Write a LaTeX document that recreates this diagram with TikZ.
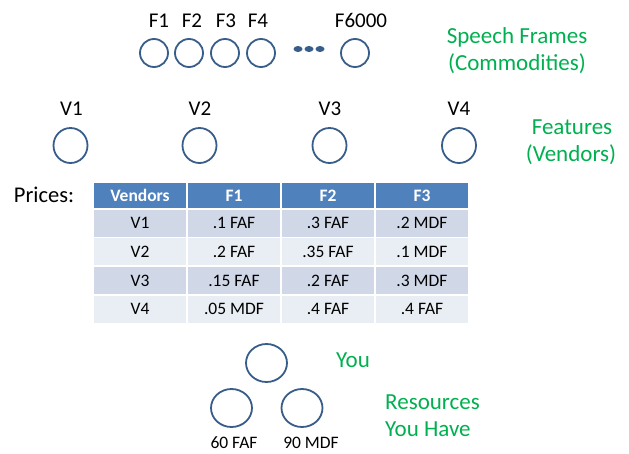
\documentclass[tikz,border=0pt]{standalone}
\usepackage{fontspec}
\setmainfont{Carlito}
\usetikzlibrary{shapes.geometric}
\definecolor{ringc}{RGB}{56,93,138}
\definecolor{grn}{RGB}{0,176,80}
\definecolor{hdr}{RGB}{79,129,189}
\definecolor{rowa}{RGB}{208,216,232}
\definecolor{rowb}{RGB}{233,237,244}
\begin{document}
\begin{tikzpicture}[x=1pt,y=-1pt,
  ringnode/.style={ellipse, draw=ringc, line width=1.8pt, inner sep=0pt},
  lbl/.style={anchor=base, inner sep=0pt, font=\fontsize{21}{25}\selectfont},
  small/.style={anchor=base, inner sep=0pt, font=\fontsize{17.5}{21}\selectfont},
  note/.style={anchor=base, inner sep=0pt, text=grn, font=\fontsize{23}{27}\selectfont},
  dotnode/.style={ellipse, fill=ringc, minimum width=9pt, minimum height=6pt, inner sep=0pt},
  hcell/.style={fill=hdr, text=white, draw=white, line width=1.5pt, minimum width=94pt, minimum height=27pt, inner sep=0pt, font=\fontsize{17.5}{21}\selectfont\bfseries},
  bcell/.style={draw=white, line width=1.5pt, minimum width=94pt, minimum height=28.6pt, inner sep=0pt, font=\fontsize{17.5}{21}\selectfont}
]
\useasboundingbox (0,0) rectangle (629,453);

% speech frames
\node[ringnode, minimum width=28pt, minimum height=28pt] (f1) at (154,53) {};
\node[ringnode, minimum width=28pt, minimum height=28pt] (f2) at (189,53) {};
\node[ringnode, minimum width=28pt, minimum height=28pt] (f3) at (225,53) {};
\node[ringnode, minimum width=28pt, minimum height=28pt] (f4) at (261,53) {};
\node[ringnode, minimum width=28pt, minimum height=28pt] (f6000) at (355,53) {};
\node[dotnode] (d1) at (298,49) {};
\node[dotnode] (d2) at (309,49) {};
\node[dotnode] (d3) at (320,49) {};
\node[lbl] (lf1) at (159,27) {F1};
\node[lbl] (lf2) at (192,27) {F2};
\node[lbl] (lf3) at (226,27) {F3};
\node[lbl] (lf4) at (258,27) {F4};
\node[lbl] (lf6000) at (361,27) {F6000};
\node[note] (sf1) at (517,43.5) {Speech Frames};
\node[note] (sf2) at (517,70.5) {(Commodities)};

% vendors
\node[ringnode, minimum width=34pt, minimum height=35pt] (v1) at (70.5,145.5) {};
\node[ringnode, minimum width=34pt, minimum height=35pt] (v2) at (199.5,145.5) {};
\node[ringnode, minimum width=34pt, minimum height=35pt] (v3) at (329.5,145.5) {};
\node[ringnode, minimum width=34pt, minimum height=35pt] (v4) at (459,145.5) {};
\node[lbl] (lv1) at (71.5,115) {V1};
\node[lbl] (lv2) at (200,115) {V2};
\node[lbl] (lv3) at (330,115) {V3};
\node[lbl] (lv4) at (459,115) {V4};
\node[note] (fe1) at (572,134.5) {Features};
\node[note] (fe2) at (571,161.5) {(Vendors)};

% prices table
\node[anchor=base, inner sep=0pt, font=\fontsize{22.5}{27}\selectfont] (prices) at (44,202.5) {Prices:};
\foreach \t [count=\i] in {Vendors,F1,F2,F3}
  \node[hcell] (h\i) at ({140+94*(\i-1)},195.5) {\t};
\foreach \a/\b/\c/\d/\f [count=\j] in {V1/.1 FAF/.3 FAF/.2 MDF/rowa,V2/.2 FAF/.35 FAF/.1 MDF/rowb,V3/.15 FAF/.2 FAF/.3 MDF/rowa,V4/.05 MDF/.4 FAF/.4 FAF/rowb}{
  \node[bcell, fill=\f] (r\j c1) at (140,{194.7+28.6*\j}) {\a};
  \node[bcell, fill=\f] (r\j c2) at (234,{194.7+28.6*\j}) {\b};
  \node[bcell, fill=\f] (r\j c3) at (328,{194.7+28.6*\j}) {\c};
  \node[bcell, fill=\f] (r\j c4) at (422,{194.7+28.6*\j}) {\d};
}

% you and resources
\node[ringnode, minimum width=41pt, minimum height=38pt] (you) at (266.5,363) {};
\node[ringnode, minimum width=41pt, minimum height=38pt] (res1) at (231.5,408) {};
\node[ringnode, minimum width=41pt, minimum height=38pt] (res2) at (302,408) {};
\node[small] (l60) at (234,448.5) {60 FAF};
\node[small] (l90) at (311,448.5) {90 MDF};
\node[note] (lyou) at (353,367.5) {You};
\node[note, anchor=base west] (lres1) at (385,409.5) {Resources};
\node[note, anchor=base west] (lres2) at (385,436.5) {You Have};
\end{tikzpicture}
\end{document}
